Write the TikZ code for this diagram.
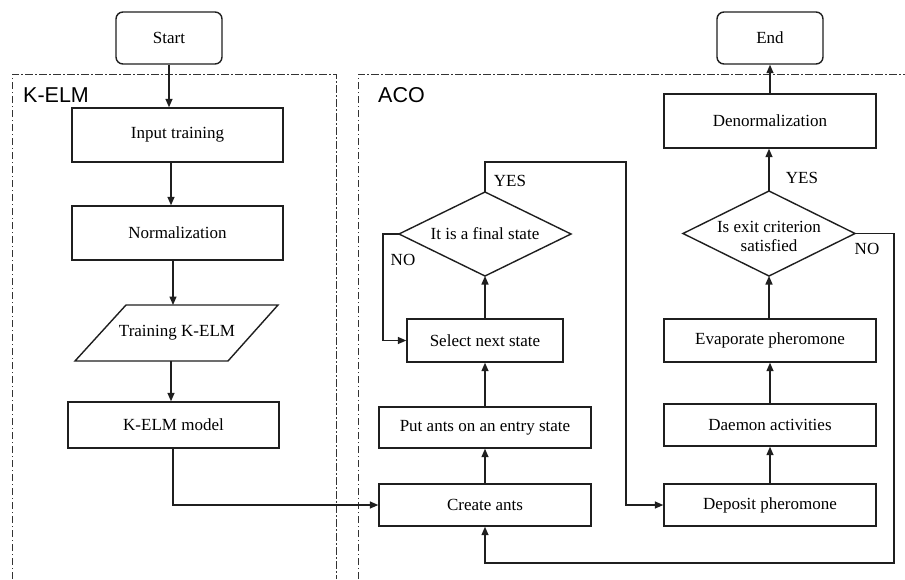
\documentclass[tikz,border=0pt]{standalone}
\usepackage{fontspec}
\setmainfont{Liberation Serif}
\newfontfamily\labelfont{Liberation Sans}
\usetikzlibrary{arrows.meta,calc}

\begin{document}
\begin{tikzpicture}[x=1pt,y=-1pt,
  line/.style={draw=black!88, line width=1.4pt},
  box/.style={line, rectangle, inner sep=0pt, font=\fontsize{17}{20}\selectfont, text=black},
  arr/.style={line, -{Triangle[length=8.5pt,width=7pt]}},
  grp/.style={draw=black!80, line width=1pt, dash pattern=on 7.5pt off 2.5pt on 1.5pt off 2.5pt},
  txt/.style={font=\fontsize{17}{19}\selectfont, inner sep=0pt, text=black, align=center},
  grplabel/.style={font=\labelfont\fontsize{21.5}{24}\selectfont, inner sep=0pt, anchor=base west, text=black}]
\useasboundingbox (0,0) rectangle (905,579);
\fill[white] (0,0) rectangle (905,579);

% groups
\draw[grp] (12,579) -- (12,74) -- (336,74) -- (336,579);
\draw[grp] (358,579) -- (358,74) -- (905,74);
\node[grplabel] (lk) at (23,102) {K-ELM};
\node[grplabel] (la) at (378,102) {ACO};

% K-ELM column
\node[box, rounded corners=7pt, minimum width=106pt, minimum height=52pt] (start) at (169,38) {Start};
\node[box, minimum width=211pt, minimum height=54pt] (input) at (177.5,135) {Input training};
\node[box, minimum width=211pt, minimum height=54pt] (norm) at (177.5,233) {Normalization};
\coordinate (p1) at (126,305);
\coordinate (p2) at (278,305);
\coordinate (p3) at (228,361);
\coordinate (p4) at (75,361);
\draw[line] (p1) -- (p2) -- (p3) -- (p4) -- cycle;
\node[txt] (train) at (177,333) {Training K-ELM};
\node[box, minimum width=211pt, minimum height=46pt] (model) at (173.5,425) {K-ELM model};

\coordinate (ka) at (171,0);
\coordinate (kb) at (173,0);
\draw[arr] (start.south) -- (start.south |- input.north);
\draw[arr] (input.south -| ka) -- (norm.north -| ka);
\draw[arr] (norm.south -| kb) -- (kb |- p1);
\draw[arr] (ka |- p4) -- (model.north -| ka);

% ACO left column
\node[box, minimum width=212pt, minimum height=42pt] (create) at (485,505) {Create ants};
\node[box, minimum width=212pt, minimum height=41pt] (put) at (485,427.5) {Put ants on an entry state};
\node[box, minimum width=156pt, minimum height=43pt] (select) at (485,340.5) {Select next state};
\coordinate (d1n) at (485,192);
\coordinate (d1e) at (571,234);
\coordinate (d1s) at (485,276);
\coordinate (d1w) at (399,234);
\draw[line] (d1n) -- (d1e) -- (d1s) -- (d1w) -- cycle;
\node[txt] (d1) at (485,234) {It is a final state};

\draw[arr] (model.south -| kb) |- (create.west);
\draw[arr] (create.north) -- (put.south);
\draw[arr] (put.north) -- (select.south);
\draw[arr] (select.north) -- (d1s);
\coordinate (n1) at (383,234);
\draw[arr] (d1w) -- (n1) |- (select.west);

% ACO right column
\node[box, minimum width=212pt, minimum height=42pt] (deposit) at (770,505) {Deposit pheromone};
\node[box, minimum width=212pt, minimum height=42pt] (daemon) at (770,425) {Daemon activities};
\node[box, minimum width=212pt, minimum height=43pt] (evap) at (770,340.5) {Evaporate pheromone};
\coordinate (d2n) at (769,191);
\coordinate (d2e) at (855,233.5);
\coordinate (d2s) at (769,276);
\coordinate (d2w) at (683,233.5);
\draw[line] (d2n) -- (d2e) -- (d2s) -- (d2w) -- cycle;
\node[txt] (d2) at (769,236) {Is exit criterion\\satisfied};
\node[box, minimum width=212pt, minimum height=54pt] (denorm) at (770,121) {Denormalization};
\node[box, rounded corners=7pt, minimum width=106pt, minimum height=52pt] (end) at (770,38) {End};

\draw[arr] (deposit.north) -- (daemon.south);
\draw[arr] (daemon.north) -- (evap.south);
\draw[arr] (evap.north -| d2s) -- (d2s);
\draw[arr] (d2n) -- (denorm.south -| d2n);
\draw[arr] (denorm.north) -- (end.south);

% YES / NO loops
\coordinate (y1) at (626,162);
\draw[arr] (d1n) |- (y1) |- (deposit.west);
\coordinate (n2) at (894,563);
\draw[arr] (d2e) -| (n2) -| (create.south);

% labels
\node[txt] (lyes1) at (510,181) {YES};
\node[txt] (lno1) at (403,260) {NO};
\node[txt] (lyes2) at (802,178) {YES};
\node[txt] (lno2) at (867,249) {NO};
\end{tikzpicture}
\end{document}
